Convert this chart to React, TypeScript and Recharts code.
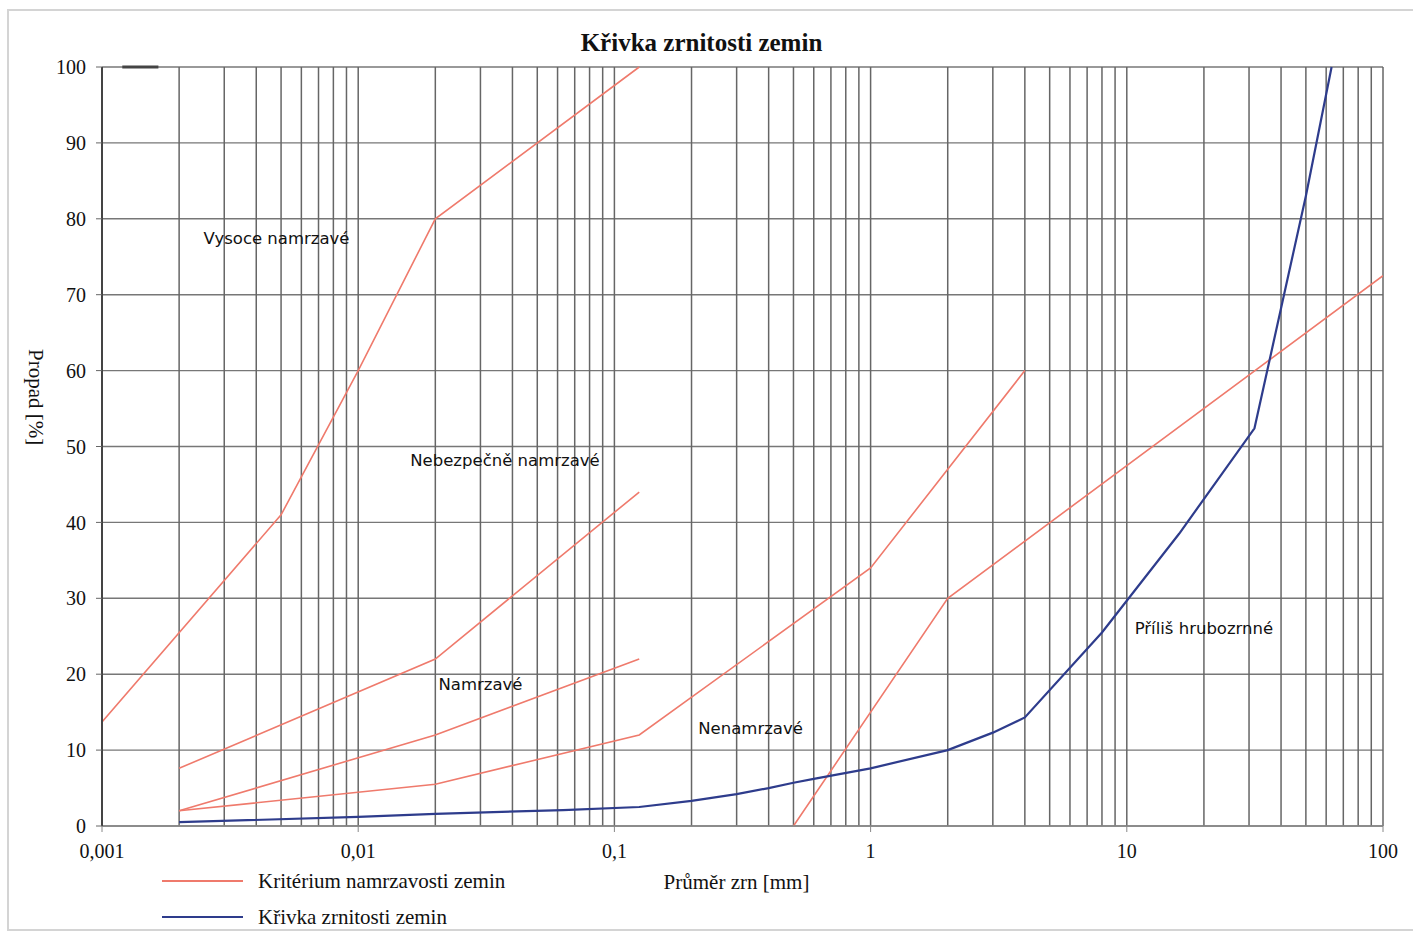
import React from 'react';
import {
  LineChart,
  Line,
  XAxis,
  YAxis,
  CartesianGrid,
  ReferenceLine,
  ReferenceDot,
} from 'recharts';

// ---- data ----
const xDecadeTicks = [0.001, 0.01, 0.1, 1, 10, 100];
const yTicks = [0, 10, 20, 30, 40, 50, 60, 70, 80, 90, 100];
const minorMultipliers = [2, 3, 4, 5, 6, 7, 8, 9];

const critVysoce = [
  { x: 0.001, y: 13.7 },
  { x: 0.005, y: 41 },
  { x: 0.01, y: 60 },
  { x: 0.02, y: 80 },
  { x: 0.125, y: 100 },
];
const critNebezpecne = [
  { x: 0.002, y: 7.6 },
  { x: 0.02, y: 22 },
  { x: 0.125, y: 44 },
];
const critNamrzave = [
  { x: 0.002, y: 2 },
  { x: 0.02, y: 12 },
  { x: 0.125, y: 22 },
];
const critNenamrzave = [
  { x: 0.002, y: 2 },
  { x: 0.02, y: 5.5 },
  { x: 0.125, y: 12 },
  { x: 1, y: 34 },
  { x: 4, y: 60 },
];
const critHrubozrnne = [
  { x: 0.5, y: 0 },
  { x: 2, y: 30 },
  { x: 100, y: 72.5 },
];
const grainCurve = [
  { x: 0.002, y: 0.5 },
  { x: 0.01, y: 1.2 },
  { x: 0.02, y: 1.6 },
  { x: 0.063, y: 2.1 },
  { x: 0.125, y: 2.5 },
  { x: 0.2, y: 3.3 },
  { x: 0.3, y: 4.2 },
  { x: 0.4, y: 5.0 },
  { x: 0.5, y: 5.7 },
  { x: 0.6, y: 6.2 },
  { x: 1, y: 7.6 },
  { x: 2, y: 10 },
  { x: 3, y: 12.3 },
  { x: 4, y: 14.3 },
  { x: 8, y: 25.5 },
  { x: 16, y: 38.5 },
  { x: 31.5, y: 52.4 },
  { x: 50, y: 83 },
  { x: 63, y: 100 },
];
const regionLabels = [
  { x: 0.0048, y: 77.5, text: 'Vysoce namrzavé' },
  { x: 0.0374, y: 48.2, text: 'Nebezpečně namrzavé' },
  { x: 0.03, y: 18.7, text: 'Namrzavé' },
  { x: 0.34, y: 12.9, text: 'Nenamrzavé' },
  { x: 20, y: 26.1, text: 'Příliš hrubozrnné' },
];

const title = 'Křivka zrnitosti zemin';
const xLabel = 'Průměr zrn [mm]';
const yLabel = 'Propad [%]';
const legendItems = [
  { name: 'Kritérium namrzavosti zemin', color: '#ef7a6c' },
  { name: 'Křivka zrnitosti zemin', color: '#2e3c8c' },
];

const RED = '#ef7a6c';
const BLUE = '#2e3c8c';
const SERIF = '"Liberation Serif", "Times New Roman", serif';
const SANS = '"DejaVu Sans", sans-serif';

const gridValues: number[] = [];
xDecadeTicks.slice(0, -1).forEach((d) => {
  gridValues.push(d);
  minorMultipliers.forEach((m) => gridValues.push(+(d * m).toPrecision(3)));
});
gridValues.push(100);

const fmt = (v: number) => String(v).replace('.', ',');

const YLabelContent = (props: any) => {
  const vb = props.viewBox || {};
  const cx = 36;
  const cy = (vb.y || 0) + (vb.height || 0) * 0.435;
  return (
    <text
      x={cx}
      y={cy}
      transform={`rotate(90, ${cx}, ${cy})`}
      textAnchor="middle"
      dominantBaseline="central"
      fill="#111"
      fontSize={21}
      fontFamily={SERIF}
    >
      {yLabel}
    </text>
  );
};

export default function App() {
  return (
    <div
      style={{
        position: 'absolute',
        left: 0,
        top: 0,
        width: 1413,
        height: 935,
        background: '#fff',
        overflow: 'hidden',
      }}
    >
      <div
        style={{
          position: 'absolute',
          left: 7,
          top: 9,
          width: 1420,
          height: 922,
          border: '2px solid #d4d4d4',
          boxSizing: 'border-box',
        }}
      />
      <div
        style={{
          position: 'absolute',
          left: 0,
          width: 1403,
          top: 29,
          textAlign: 'center',
          fontFamily: SERIF,
          fontWeight: 'bold',
          fontSize: 25,
          color: '#111',
        }}
      >
        {title}
      </div>
      <div style={{ position: 'absolute', left: 0, top: 0 }}>
        <LineChart
          width={1413}
          height={935}
          margin={{ top: 67, right: 30, left: 42, bottom: 69 }}
        >
          <CartesianGrid vertical={false} stroke="#777" strokeWidth={1.4} />
          {gridValues.map((v) => (
            <ReferenceLine
              key={'g' + v}
              x={v}
              stroke="#666"
              strokeWidth={1.5}
              ifOverflow="visible"
            />
          ))}
          <XAxis
            type="number"
            dataKey="x"
            scale="log"
            domain={[0.001, 100]}
            ticks={xDecadeTicks}
            tickFormatter={fmt}
            allowDataOverflow
            height={40}
            interval={0}
            tick={{ fill: '#111', fontSize: 20, fontFamily: SERIF }}
            tickLine={{ stroke: '#888' }}
            tickSize={6}
            tickMargin={12}
            axisLine={{ stroke: '#888', strokeWidth: 1.5 }}
            label={{
              value: xLabel,
              position: 'bottom',
              offset: 8,
              fill: '#111',
              fontSize: 21,
              fontFamily: SERIF,
              dx: -6,
            }}
          />
          <YAxis
            type="number"
            domain={[0, 100]}
            ticks={yTicks}
            interval={0}
            width={60}
            tick={{ fill: '#111', fontSize: 20, fontFamily: SERIF }}
            tickLine={{ stroke: '#666' }}
            tickSize={6}
            tickMargin={10}
            axisLine={{ stroke: '#444', strokeWidth: 2 }}
            label={{ content: YLabelContent }}
          />
          <ReferenceLine
            segment={[
              { x: 0.0012, y: 100 },
              { x: 0.00166, y: 100 },
            ]}
            stroke="#444"
            strokeWidth={3}
            ifOverflow="visible"
          />
          <Line data={critVysoce} dataKey="y" type="linear" stroke={RED} strokeWidth={1.6} dot={false} isAnimationActive={false} />
          <Line data={critNebezpecne} dataKey="y" type="linear" stroke={RED} strokeWidth={1.6} dot={false} isAnimationActive={false} />
          <Line data={critNamrzave} dataKey="y" type="linear" stroke={RED} strokeWidth={1.6} dot={false} isAnimationActive={false} />
          <Line data={critNenamrzave} dataKey="y" type="linear" stroke={RED} strokeWidth={1.6} dot={false} isAnimationActive={false} />
          <Line data={critHrubozrnne} dataKey="y" type="linear" stroke={RED} strokeWidth={1.6} dot={false} isAnimationActive={false} />
          <Line data={grainCurve} dataKey="y" type="linear" stroke={BLUE} strokeWidth={2.2} dot={false} isAnimationActive={false} />
          {regionLabels.map((l) => (
            <ReferenceDot
              key={l.text}
              x={l.x}
              y={l.y}
              r={0}
              fill="none"
              stroke="none"
              ifOverflow="visible"
              label={{
                value: l.text,
                position: 'center',
                fill: '#111',
                fontSize: 16.5,
                fontFamily: SANS,
              }}
            />
          ))}
        </LineChart>
      </div>
      {legendItems.map((it, i) => (
        <div
          key={it.name}
          style={{
            position: 'absolute',
            left: 162,
            top: 870 + i * 36,
            height: 22,
            display: 'flex',
            alignItems: 'center',
            fontFamily: SERIF,
            fontSize: 21,
            color: '#111',
            whiteSpace: 'nowrap',
          }}
        >
          <span
            style={{
              display: 'inline-block',
              width: 81,
              height: 2,
              background: it.color,
              marginRight: 15,
            }}
          />
          {it.name}
        </div>
      ))}
    </div>
  );
}
